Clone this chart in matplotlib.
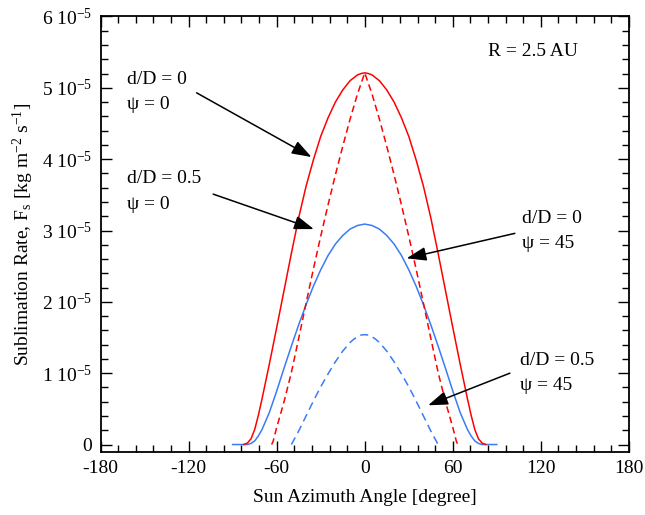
import matplotlib
matplotlib.use("Agg")
import matplotlib.pyplot as plt
from matplotlib.ticker import MultipleLocator, FixedLocator

plt.rcParams['font.family'] = ['Liberation Serif', 'DejaVu Serif']
plt.rcParams['mathtext.default'] = 'regular'
plt.rcParams['axes.unicode_minus'] = False
plt.rcParams['lines.scale_dashes'] = False

# Sun azimuth angle [deg] and sublimation rate [1e-5 kg m^-2 s^-1]
ang_red = [-82.5, -80, -77.5, -75, -72.5, -70, -65, -60, -55, -50, -45, -40, -35, -30, -25, -20, -15, -10, -5, -2.5, 0,
           2.5, 5, 10, 15, 20, 25, 30, 35, 40, 45, 50, 55, 60, 65, 70, 72.5, 75, 77.5, 80, 82.5]
rate_red = [0.0, 0.02, 0.08, 0.21, 0.41, 0.64, 1.13, 1.64, 2.16, 2.68, 3.18, 3.62, 3.99, 4.32, 4.58, 4.80, 4.97, 5.10, 5.18, 5.20, 5.21,
            5.20, 5.18, 5.10, 4.97, 4.80, 4.58, 4.32, 3.99, 3.62, 3.18, 2.68, 2.16, 1.64, 1.13, 0.64, 0.41, 0.21, 0.08, 0.02, 0.0]

ang_red_d = [-63.5, -62.5, -60, -55, -50, -45, -40, -35, -30, -25, -20, -15, -10, -5, 0,
             5, 10, 15, 20, 25, 30, 35, 40, 45, 50, 55, 60, 62.5, 63.5]
rate_red_d = [0.0, 0.04, 0.24, 0.60, 1.01, 1.49, 1.98, 2.46, 2.92, 3.36, 3.78, 4.18, 4.56, 4.91, 5.21,
              4.91, 4.56, 4.18, 3.78, 3.36, 2.92, 2.46, 1.98, 1.49, 1.01, 0.60, 0.24, 0.04, 0.0]

ang_blue = [-90, -85, -80, -77.5, -75, -72.5, -70, -65, -60, -55, -50, -45, -40, -35, -30, -25, -20, -15, -10, -5, 0,
            5, 10, 15, 20, 25, 30, 35, 40, 45, 50, 55, 60, 65, 70, 72.5, 75, 77.5, 80, 85, 90]
rate_blue = [0.0, 0.0, 0.0, 0.015, 0.05, 0.12, 0.21, 0.45, 0.75, 1.07, 1.38, 1.68, 1.96, 2.22, 2.45, 2.65, 2.81, 2.93, 3.02, 3.07, 3.09,
             3.07, 3.02, 2.93, 2.81, 2.65, 2.45, 2.22, 1.96, 1.68, 1.38, 1.07, 0.75, 0.45, 0.21, 0.12, 0.05, 0.015, 0.0, 0.0, 0.0]

ang_blue_d = [-50, -45, -40, -35, -30, -25, -20, -15, -10, -7.5, -5, -2.5, 0,
              2.5, 5, 7.5, 10, 15, 20, 25, 30, 35, 40, 45, 50]
rate_blue_d = [0.0, 0.19, 0.40, 0.61, 0.81, 0.99, 1.16, 1.31, 1.43, 1.475, 1.51, 1.535, 1.54,
               1.535, 1.51, 1.475, 1.43, 1.31, 1.16, 0.99, 0.81, 0.61, 0.40, 0.19, 0.0]

red = '#ff0000'
blue = '#3a7cf5'
scale = 1e-5

fig = plt.figure(figsize=(6.45, 5.15), dpi=100)
ax = fig.add_axes([0.156, 0.123, 0.819, 0.845])

ax.plot(ang_blue, [v * scale for v in rate_blue], color=blue, lw=1.1)
ax.plot(ang_red, [v * scale for v in rate_red], color=red, lw=1.1)
ax.plot(ang_red_d, [v * scale for v in rate_red_d], color=red, lw=1.1, dashes=(4.8, 2.9))
ax.plot(ang_blue_d, [v * scale for v in rate_blue_d], color=blue, lw=1.1, dashes=(5.8, 3.6))

ax.set_xlim(-180, 180)
ax.set_ylim(-0.1e-5, 6e-5)
ax.xaxis.set_major_locator(MultipleLocator(60))
ax.xaxis.set_minor_locator(MultipleLocator(12))
yt = [i * 1e-5 for i in range(7)]
ax.yaxis.set_major_locator(FixedLocator(yt))
ax.yaxis.set_minor_locator(MultipleLocator(0.2e-5))
ax.set_yticklabels(['0'] + ['%d 10$^{-5}$' % i for i in range(1, 7)])
ax.tick_params(which='both', direction='in', top=True, right=True, labelsize=14, width=1.0)
ax.tick_params(which='major', length=8, pad=6)
ax.tick_params(which='minor', length=5)
for s in ax.spines.values():
    s.set_linewidth(1.3)

ax.set_xlabel('Sun Azimuth Angle [degree]', fontsize=14, labelpad=9)
ax.set_ylabel('Sublimation Rate, F$_s$ [kg m$^{-2}$ s$^{-1}$]', fontsize=14, labelpad=4)

ax.text(84, 5.51e-5, 'R = 2.5 AU', fontsize=14, va='center', ha='left')

labels = [
    ('d/D = 0', '\u03c8 = 0', -162.3, 5.11e-5, 4.76e-5, (-114.6, 4.93e-5), (-36.3, 4.03e-5)),
    ('d/D = 0.5', '\u03c8 = 0', -162.3, 3.73e-5, 3.36e-5, (-103.3, 3.51e-5), (-34.7, 3.02e-5)),
    ('d/D = 0', '\u03c8 = 45', 106.9, 3.17e-5, 2.82e-5, (102.3, 2.96e-5), (28.5, 2.61e-5)),
    ('d/D = 0.5', '\u03c8 = 45', 105.7, 1.18e-5, 0.83e-5, (98.9, 1.0e-5), (43.2, 0.55e-5)),
]
for l1, l2, tx, ty1, ty2, tail, tip in labels:
    ax.text(tx, ty1, l1, fontsize=14, va='center', ha='left')
    ax.text(tx, ty2, l2, fontsize=14, va='center', ha='left')
    ax.annotate('', xy=tip, xytext=tail,
                arrowprops=dict(arrowstyle='-|>,head_length=1.0,head_width=0.35', mutation_scale=12,
                                color='k', lw=1.1, shrinkA=0, shrinkB=0))

fig.savefig('out.png', dpi=100)
